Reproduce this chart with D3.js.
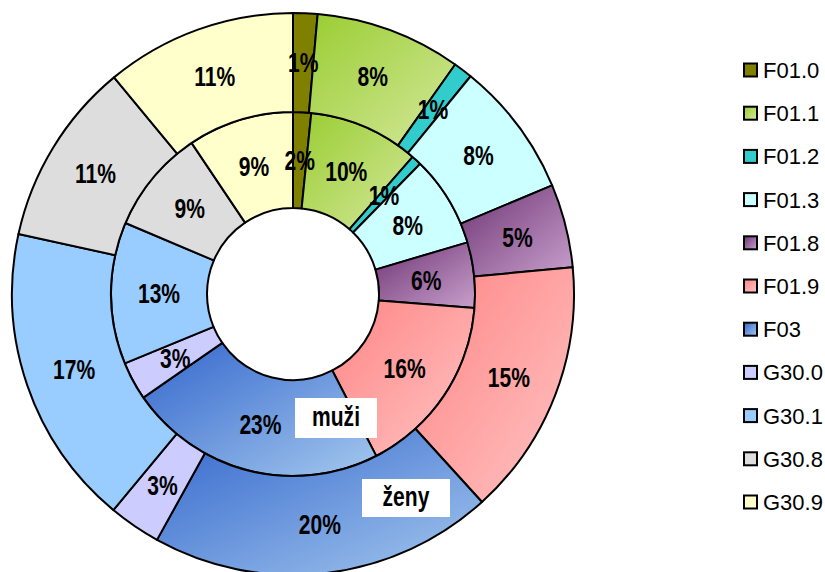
<!DOCTYPE html>
<html><head><meta charset="utf-8">
<script src="https://cdn.jsdelivr.net/npm/d3@7"></script>
<style>body{margin:0;background:#fff}</style>
</head><body><svg id="c" width="825" height="572"></svg>
<script>
const categories = ["F01.0","F01.1","F01.2","F01.3","F01.8","F01.9","F03","G30.0","G30.1","G30.8","G30.9"];
const muzi = [1.6, 9.8, 0.9, 8.1, 5.8, 16.2, 22.9, 3.4, 12.6, 9.2, 9.4];
const zeny = [1.4, 8.4, 1.1, 7.8, 4.8, 14.8, 19.8, 3.0, 17.4, 10.6, 11.0];
const ringNames = ["muži","ženy"];
const colorFrom = ["#808000","#9acd32","#33cccc","#ccffff","#6e3474","#ff8585","#3366cc","#ccccff","#99ccff","#dddddd","#ffffcc"];
const colorTo   = ["#808000","#d4e89c","#33cccc","#ccffff","#c8a0cc","#ffc4c4","#a4c8ee","#ccccff","#99ccff","#dddddd","#ffffcc"];

const svg = d3.select("#c");
const cx = 293, cy = 294;
const rHole = 86, rMid = 182, rOuter = 281;
const labelFont = "'Liberation Sans Narrow','Arial Narrow','Liberation Sans',Arial,sans-serif";
const legendFont = "'Liberation Sans',Arial,sans-serif";
const squeeze = 0.78;

const defs = svg.append("defs");
categories.forEach((c,i)=>{
  const g = defs.append("linearGradient").attr("id","g"+i)
    .attr("x1",0).attr("y1",0).attr("x2",1).attr("y2",1);
  g.append("stop").attr("offset","0%").attr("stop-color",colorFrom[i]);
  g.append("stop").attr("offset","100%").attr("stop-color",colorTo[i]);
});

const pie = d3.pie().sort(null).value(d=>d);
const rings = [
  {name:ringNames[0], data:muzi, r0:rHole, r1:rMid},
  {name:ringNames[1], data:zeny, r0:rMid, r1:rOuter}
];
const root = svg.append("g").attr("transform",`translate(${cx},${cy})`);
rings.forEach(ring=>{
  const total = d3.sum(ring.data);
  const arc = d3.arc().innerRadius(ring.r0).outerRadius(ring.r1);
  const arcs = pie(ring.data);
  const g = root.append("g");
  g.selectAll("path").data(arcs).join("path")
    .attr("d",arc)
    .attr("fill",(d,i)=>`url(#g${i})`)
    .attr("stroke","#000").attr("stroke-width",2).attr("stroke-linejoin","round");
  g.selectAll("text").data(arcs).join("text")
    .attr("transform",d=>`translate(${arc.centroid(d)}) scale(${squeeze},1)`)
    .attr("text-anchor","middle").attr("dy","0.36em")
    .attr("font-family",labelFont).attr("font-weight","bold").attr("font-size",27)
    .attr("fill","#000")
    .text(d=>Math.round(d.value/total*100)+"%");
});

// ring name boxes
const boxes = [{x:295,y:398,w:82,h:40},{x:362,y:479,w:88,h:38}];
ringNames.forEach((n,i)=>{
  const b = boxes[i];
  svg.append("rect").attr("x",b.x).attr("y",b.y).attr("width",b.w).attr("height",b.h).attr("fill","#fff");
  svg.append("text").attr("transform",`translate(${b.x+b.w/2},${b.y+b.h/2}) scale(${squeeze},1)`).attr("dy","0.3em")
    .attr("text-anchor","middle").attr("font-family",labelFont).attr("font-weight","bold").attr("font-size",27)
    .text(n);
});

// legend
const legendY = d3.scalePoint().domain(categories).range([70,502]);
const lg = svg.append("g");
categories.forEach((c,i)=>{
  const y = legendY(c);
  lg.append("rect").attr("x",744).attr("y",y-6.5).attr("width",13).attr("height",13)
    .attr("fill",`url(#g${i})`).attr("stroke","#000").attr("stroke-width",2);
  lg.append("text").attr("x",763).attr("y",y).attr("dy","0.36em")
    .attr("font-family",legendFont).attr("font-size",22).attr("fill","#000").text(c);
});
</script></body></html>
